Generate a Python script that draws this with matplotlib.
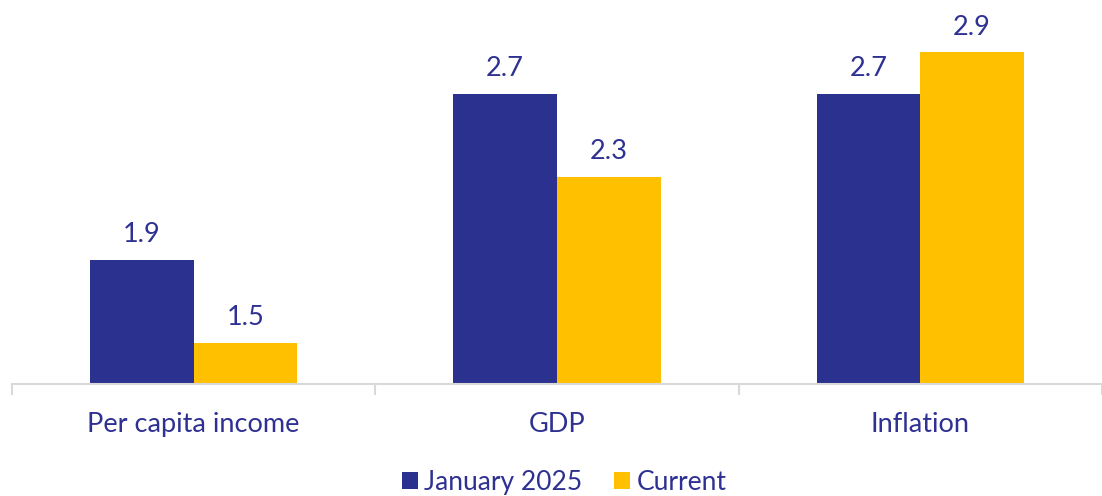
import matplotlib
matplotlib.use("Agg")
import matplotlib.pyplot as plt
import numpy as np

# 各指标与两期数值
categories = ["Per capita income", "GDP", "Inflation"]
jan_2025 = [1.9, 2.7, 2.7]
current = [1.5, 2.3, 2.9]
series_names = ["January 2025", "Current"]

navy = "#2B318F"
yellow = "#FFC000"
text_color = "#2E3192"
axis_gray = "#D9D9D9"

plt.rcParams["font.family"] = ["Lato", "DejaVu Sans"]

fig = plt.figure(figsize=(11.02, 4.96), dpi=100)
ax = fig.add_axes([12 / 1102, 112 / 496, 1090 / 1102, 384 / 496])

x = np.arange(len(categories))
w = 0.285
b1 = ax.bar(x - w / 2, jan_2025, w, color=navy, label=series_names[0], bottom=0)
b2 = ax.bar(x + w / 2, current, w, color=yellow, label=series_names[1], bottom=0)

# 数值标签
for bars, vals in [(b1, jan_2025), (b2, current)]:
    for rect, v in zip(bars, vals):
        ax.annotate(f"{v:.1f}", (rect.get_x() + rect.get_width() / 2, v),
                    xytext=(0, 9), textcoords="offset points",
                    ha="center", va="bottom", fontsize=19.5, color=text_color)

ax.set_xlim(-0.5, 2.478)
ax.set_ylim(1.302, 3.153)

for s in ["top", "right", "left"]:
    ax.spines[s].set_visible(False)
ax.spines["bottom"].set_color(axis_gray)
ax.spines["bottom"].set_linewidth(1.5)
ax.set_yticks([])

# 类别分隔刻度
ax.set_xticks([-0.5, 0.5, 1.5, 2.5], minor=True)
ax.tick_params(axis="x", which="minor", length=8, width=1.5, color=axis_gray)
ax.set_xticks(x)
ax.set_xticklabels(categories)
ax.tick_params(axis="x", which="major", length=0, pad=20, labelsize=19.5, labelcolor=text_color)

fig.legend(loc="center", bbox_to_anchor=(0.512, 0.028), ncol=2, frameon=False,
           fontsize=19, labelcolor=text_color, handlelength=0.6, handleheight=0.6,
           handletextpad=0.25, columnspacing=1.2)

fig.savefig("out.png", dpi=100)
